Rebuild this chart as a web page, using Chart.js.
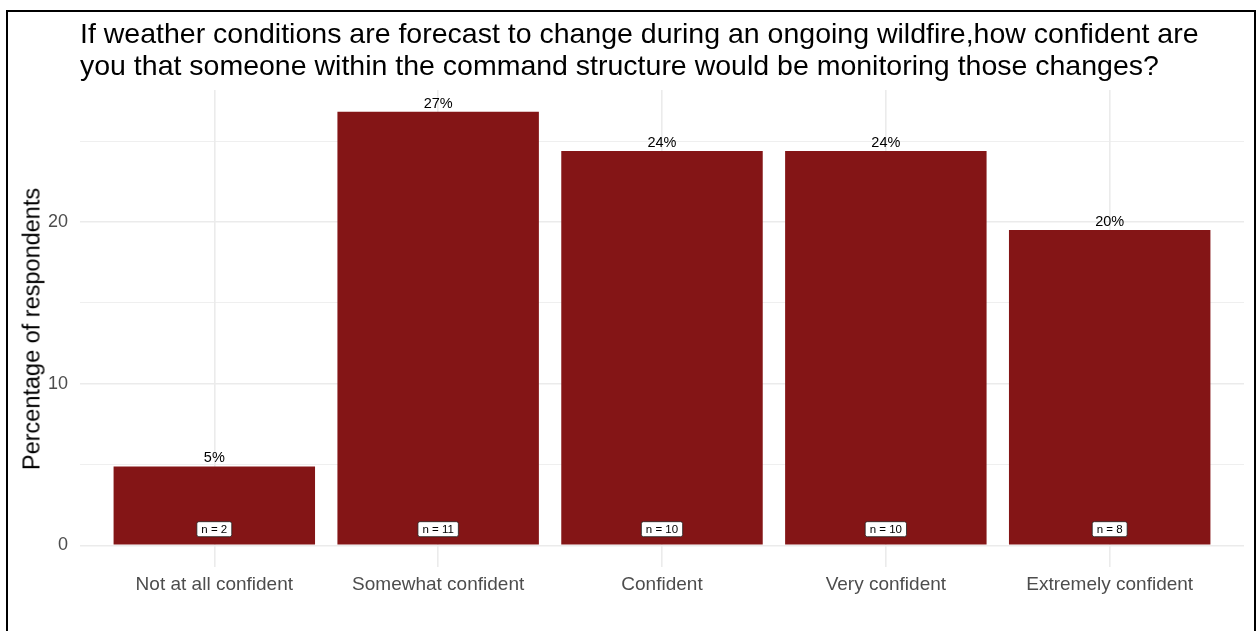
<!DOCTYPE html>
<html>
<head>
<meta charset="utf-8">
<script src="https://cdn.jsdelivr.net/npm/chart.js@4.4.1/dist/chart.umd.min.js"></script>
<style>
  html, body { margin: 0; padding: 0; background: #fff; width: 1259px; height: 631px; overflow: hidden; }
  #frame { position: absolute; left: 6px; top: 10px; width: 1246px; height: 640px; border: 2px solid #000; box-sizing: content-box; }
  #title { position: absolute; left: 80px; top: 17px; font-family: "Liberation Sans", Arial, sans-serif; font-size: 28.5px; line-height: 32px; color: #000; white-space: nowrap; }
  #ytitle { position: absolute; left: 32px; top: 329px; transform: translate(-50%, -50%) rotate(-90deg); font-family: "Liberation Sans", Arial, sans-serif; font-size: 23.5px; color: #000; white-space: nowrap; }
  canvas { position: absolute; left: 0; top: 0; }
</style>
</head>
<body>
<div id="frame"></div>
<canvas id="c" width="1259" height="631"></canvas>
<div id="title">If weather conditions are forecast to change during an ongoing wildfire,how confident are<br>you that someone within the command structure would be monitoring those changes?</div>
<div id="ytitle">Percentage of respondents</div>
<script>
// ---- data ----
const categories = ["Not at all confident", "Somewhat confident", "Confident", "Very confident", "Extremely confident"];
const percentages = [4.88, 26.83, 24.39, 24.39, 19.51];
const counts = [2, 11, 10, 10, 8];
const percentLabels = ["5%", "27%", "24%", "24%", "20%"];
const yTicks = [0, 5, 10, 15, 20, 25];
const yTickLabels = { 0: "0", 10: "10", 20: "20" };

const FONT = '"Liberation Sans", Arial, sans-serif';
const catIndex = categories.map((_, i) => i);

const labelPlugin = {
  id: 'barLabels',
  afterDatasetsDraw(chart) {
    const ctx = chart.ctx;
    const meta = chart.getDatasetMeta(0);
    const yScale = chart.scales.y;
    ctx.save();
    meta.data.forEach((bar, i) => {
      ctx.font = '14.5px ' + FONT;
      ctx.fillStyle = '#000';
      ctx.textAlign = 'center';
      ctx.textBaseline = 'alphabetic';
      ctx.fillText(percentLabels[i], bar.x, bar.y - 4);
      const txt = 'n = ' + counts[i];
      ctx.font = '11.5px ' + FONT;
      const w = ctx.measureText(txt).width + 9;
      const h = 15;
      const cy = yScale.getPixelForValue(1);
      const x0 = bar.x - w / 2, y0 = cy - h / 2;
      ctx.beginPath();
      if (ctx.roundRect) ctx.roundRect(x0, y0, w, h, 2); else ctx.rect(x0, y0, w, h);
      ctx.fillStyle = '#fff';
      ctx.fill();
      ctx.lineWidth = 0.8;
      ctx.strokeStyle = '#222';
      ctx.stroke();
      ctx.fillStyle = '#000';
      ctx.textBaseline = 'middle';
      ctx.fillText(txt, bar.x, cy + 0.5);
    });
    ctx.restore();
  }
};

new Chart(document.getElementById('c'), {
  type: 'bar',
  data: {
    datasets: [{
      data: catIndex.map((x, i) => ({ x: x, y: percentages[i] })),
      backgroundColor: '#841516',
      borderWidth: 0,
      barPercentage: 0.9,
      categoryPercentage: 1.0
    }]
  },
  options: {
    responsive: false,
    animation: false,
    devicePixelRatio: 1,
    layout: { padding: { left: 0, top: 90, right: 15, bottom: 24 } },
    plugins: { legend: { display: false }, tooltip: { enabled: false }, title: { display: false } },
    scales: {
      x: {
        type: 'linear',
        min: -0.6,
        max: 4.6,
        offset: false,
        afterBuildTicks: s => { s.ticks = catIndex.map(v => ({ value: v })); },
        afterFit: s => { s.height = 40; },
        border: { display: false },
        grid: { color: '#ebebeb', lineWidth: 1.6, drawTicks: false, offset: false },
        ticks: {
          padding: 6,
          color: '#4d4d4d',
          font: { family: FONT, size: 19 },
          autoSkip: false,
          maxRotation: 0,
          callback: v => categories[v]
        }
      },
      y: {
        type: 'linear',
        min: -1.34,
        max: 28.17,
        afterBuildTicks: s => { s.ticks = yTicks.map(v => ({ value: v })); },
        afterFit: s => { s.width = 80; },
        border: { display: false },
        grid: {
          color: '#ebebeb',
          lineWidth: c => (c.tick && c.tick.value % 10 === 0) ? 1.6 : 0.8,
          drawTicks: false
        },
        ticks: {
          padding: 12,
          color: '#4d4d4d',
          font: { family: FONT, size: 18 },
          callback: v => (yTickLabels[v] !== undefined ? yTickLabels[v] : '')
        }
      }
    }
  },
  plugins: [labelPlugin]
});
</script>
</body>
</html>
